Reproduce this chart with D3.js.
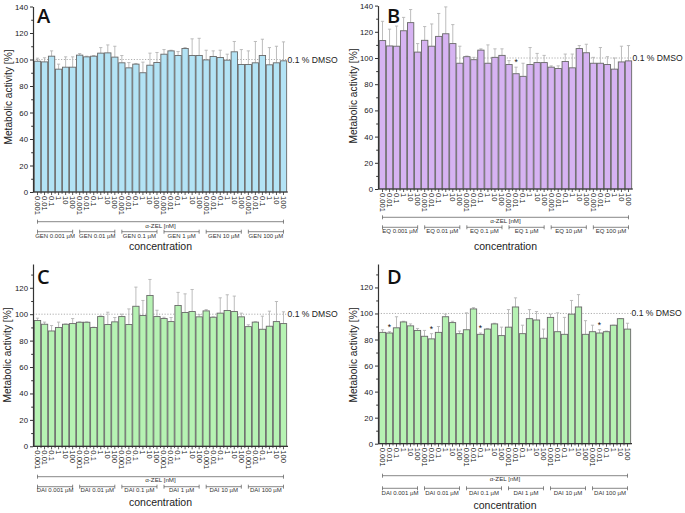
<!DOCTYPE html>
<html>
<head>
<meta charset="utf-8">
<script src="https://cdn.jsdelivr.net/npm/d3@7"></script>
<style>
  html, body { margin: 0; padding: 0; background: #fff; }
  svg { display: block; font-family: "Liberation Sans", Arial, sans-serif; }
</style>
</head>
<body>
<svg id="chart" width="685" height="513"></svg>
<script>
// ---------- DATA ----------
const concentrations = ["0.001", "0.01", "0.1", "1", "10", "100"];
const groupDoses = ["0.001 µM", "0.01 µM", "0.1 µM", "1 µM", "10 µM", "100 µM"];
const compounds = ["GEN", "EQ", "DAI", "DAI"];
const panelLetters = ["A", "B", "C", "D"];
const yTicksAB = [0, 20, 40, 60, 80, 100, 120, 140];
const yTicksCD = [0, 20, 40, 60, 80, 100, 120];
const axisTitleY = "Metabolic activity [%]";
const axisTitleX = "concentration";
const bracketLabel = "α-ZEL [nM]";
const refLabel = "0.1 % DMSO";
const refValue = 100;

const valuesA = [98.7, 98.2, 102.5, 92.7, 94.2, 94.2, 103.3, 102, 102.5, 104.8, 105, 101.8,
                 97.5, 93.7, 96.5, 90, 95.7, 97.7, 104, 106.5, 103, 108.3, 103, 103,
                 99.7, 102.3, 101.5, 99.5, 105.8, 96.2, 96.2, 97.5, 103, 96, 97.5, 99];
const errA    = [101, 101.3, 106.5, 96.5, 102, 102, 104.5, 102.5, 103, 109, 111, 110,
                 103, 97.7, 97, 98, 104.8, 105.3, 107.5, 107, 106, 109, 115.6, 116,
                 107, 106.5, 107, 104, 113.6, 107.5, 106.5, 113.6, 115.3, 109, 110, 113.3];

const valuesB = [113.3, 109.2, 109, 120.8, 127, 104.5, 113.5, 109, 116.5, 118.5, 111, 96,
                 101, 98.7, 106, 96, 100.5, 102, 95, 88, 86, 95, 96.5, 96.5,
                 93, 92, 97.3, 92.5, 107.2, 104, 96, 96, 95, 91.5, 97, 97.8];
const errB    = [128, 122, 124.4, 131, 137, 111, 124, 126, 134, 139, 125.5, 109,
                 101.5, 100.5, 107, 110, 107, 107, 98, 93, 96, 108, 103.5, 102,
                 94, 94, 103, 103, 109.5, 110.5, 100.5, 108, 101, 100, 109, 109.5];
const starsB  = [20];

const valuesC = [95.2, 92.4, 87.3, 89.9, 92.4, 92.9, 93.9, 93.9, 89.9, 98.2, 92.2, 94.2,
                 98.2, 92.2, 106, 99, 114.2, 98.2, 96.7, 94.4, 106.6, 101.3, 102, 98,
                 102.5, 97.7, 100.8, 102.8, 102, 98, 90.6, 94, 88.6, 90.9, 94.4, 92.9];
const errC    = [97, 94, 91.4, 94, 92.6, 96.7, 94.2, 94.2, 90.2, 98.7, 101.5, 97.5,
                 100, 104, 120.5, 110.4, 126.3, 103, 97.7, 97.5, 116.5, 115.4, 118.7, 99.7,
                 103.5, 98, 112.4, 114.7, 113.7, 100.8, 92, 94.3, 98.5, 102.3, 109.6, 101.8];

const valuesD = [85.5, 85, 89, 93.5, 90.5, 87, 82.5, 80.5, 85.5, 97.5, 93, 84.5,
                 87.5, 103.5, 84, 88, 92, 83, 89.5, 105, 84.5, 96, 95, 81,
                 97, 86, 84, 99.5, 105, 84, 86, 85, 86, 91, 96, 88];
const errD    = [87.5, 86, 97.5, 94, 92, 88.5, 87, 84.5, 90, 99.5, 94, 86.5,
                 100.5, 104.5, 85, 88.5, 92.5, 89.5, 103, 112, 91, 103, 101.5, 88,
                 99.5, 100.5, 97, 110, 114.5, 94.5, 91, 87.5, 86.5, 91, 96, 92.5];
const starsD  = [2, 8, 15, 32];

// ---------- LAYOUT / STYLE ----------
const panels = [
  { letter: panelLetters[0], compound: compounds[0], values: valuesA, errors: errA, stars: [],
    fill: "#b3e3f5", left: 34, right: 287, axisX: 33, y0: 192, yTop: 6.5, yMax: 140, yTicks: yTicksAB,
    titleX: 8, titleY: 97, letterX: 37, letterY: 23,
    offFull: 29.7, offZel: 35.5, offGroup: 39.7, offGroupLab: 46, offConc: 58 },
  { letter: panelLetters[1], compound: compounds[1], values: valuesB, errors: errB, stars: starsB,
    fill: "#d6b3f2", left: 379, right: 632, axisX: 378, y0: 189, yTop: 5.6, yMax: 140, yTicks: yTicksAB,
    titleX: 353, titleY: 96, letterX: 387, letterY: 23,
    offFull: 28.3, offZel: 34, offGroup: 38.3, offGroupLab: 44, offConc: 61 },
  { letter: panelLetters[2], compound: compounds[2], values: valuesC, errors: errC, stars: [],
    fill: "#b6f2b3", left: 34, right: 287, axisX: 33, y0: 446.3, yTop: 264, yMax: 138, yTicks: yTicksCD,
    titleX: 7, titleY: 355, letterX: 37, letterY: 284,
    offFull: 30.4, offZel: 36, offGroup: 40.4, offGroupLab: 46, offConc: 60 },
  { letter: panelLetters[3], compound: compounds[3], values: valuesD, errors: errD, stars: starsD,
    fill: "#b6f2b3", left: 379, right: 631, axisX: 378, y0: 443.7, yTop: 264, yMax: 138, yTicks: yTicksCD,
    titleX: 353, titleY: 355, letterX: 387, letterY: 284,
    offFull: 32, offZel: 37, offGroup: 44.6, offGroupLab: 51, offConc: 65 }
];

const svg = d3.select("#chart");
svg.append("rect").attr("width", 685).attr("height", 513).attr("fill", "#fff");

const categories = d3.range(groupDoses.length * concentrations.length);

panels.forEach(p => {
  const g = svg.append("g");
  const x = d3.scaleBand().domain(categories).range([p.left, p.right]).paddingInner(0.1).paddingOuter(0.05);
  const y = d3.scaleLinear().domain([0, p.yMax]).range([p.y0, p.yTop]);

  // reference line
  g.append("line")
    .attr("x1", p.axisX).attr("x2", p.right + 1)
    .attr("y1", y(refValue)).attr("y2", y(refValue))
    .attr("stroke", "#9a9a9a").attr("stroke-width", 0.8).attr("stroke-dasharray", "1.2,1.6");
  g.append("text").attr("x", p.right + 0.5).attr("y", y(refValue) + 3)
    .attr("font-size", 8.6).attr("fill", "#222").text(refLabel);

  // error bars
  const eg = g.append("g").attr("stroke", "#b5b5b5").attr("stroke-width", 0.9);
  categories.forEach(i => {
    const cx = x(i) + x.bandwidth() / 2;
    eg.append("line").attr("x1", cx).attr("x2", cx).attr("y1", y(p.values[i])).attr("y2", y(p.errors[i]));
    eg.append("line").attr("x1", cx - 1.6).attr("x2", cx + 1.6).attr("y1", y(p.errors[i])).attr("y2", y(p.errors[i]));
  });

  // bars
  g.append("g").selectAll("rect").data(categories).join("rect")
    .attr("x", i => x(i)).attr("width", x.bandwidth())
    .attr("y", i => y(p.values[i])).attr("height", i => y(0) - y(p.values[i]))
    .attr("fill", p.fill).attr("stroke", "#686868").attr("stroke-width", 0.9);

  // stars
  p.stars.forEach(n => {
    const i = n - 1;
    g.append("text").attr("x", x(i) + x.bandwidth() / 2).attr("y", y(p.errors[i]) - 2)
      .attr("text-anchor", "middle").attr("font-size", 8.5).attr("fill", "#111").text("*");
  });

  // y axis
  const yMinor = d3.range(10, p.yMax, 20);
  const ya = g.append("g").attr("transform", `translate(${p.axisX},0)`)
    .call(d3.axisLeft(y).tickValues(p.yTicks).tickSize(3).tickSizeOuter(0).tickPadding(2));
  ya.selectAll("text").attr("font-size", 7.8).attr("fill", "#222").attr("font-family", "Liberation Sans, Arial, sans-serif");
  ya.select(".domain").attr("stroke", "#333").attr("stroke-width", 1.2);
  ya.selectAll(".tick line").attr("stroke", "#333");
  const ym = g.append("g").attr("transform", `translate(${p.axisX},0)`)
    .call(d3.axisLeft(y).tickValues(yMinor).tickSize(1.8).tickFormat(""));
  ym.select(".domain").remove();
  ym.selectAll(".tick line").attr("stroke", "#333");

  // x axis
  g.append("line").attr("x1", p.axisX).attr("x2", p.right + 1).attr("y1", p.y0).attr("y2", p.y0)
    .attr("stroke", "#333").attr("stroke-width", 1.2);
  const xt = g.append("g").attr("stroke", "#333").attr("stroke-width", 0.8);
  categories.forEach(i => {
    const cx = x(i) + x.bandwidth() / 2;
    xt.append("line").attr("x1", cx).attr("x2", cx).attr("y1", p.y0).attr("y2", p.y0 + 3);
    const bx = x(i) + x.bandwidth() + x.step() * x.paddingInner() / 2;
    if (i < categories.length - 1)
      xt.append("line").attr("x1", bx).attr("x2", bx).attr("y1", p.y0).attr("y2", p.y0 + 1.8);
  });
  categories.forEach(i => {
    const cx = x(i) + x.bandwidth() / 2;
    g.append("text")
      .attr("transform", `translate(${cx - 2.6},${p.y0 + 4}) rotate(90)`)
      .attr("font-size", 7.6).attr("fill", "#222")
      .text(concentrations[i % concentrations.length]);
  });

  // full bracket
  const first = x(0) + x.bandwidth() / 2;
  const last = x(categories.length - 1) + x.bandwidth() / 2;
  const br = g.append("g").attr("stroke", "#555").attr("stroke-width", 0.7);
  const fy = p.y0 + p.offFull;
  br.append("line").attr("x1", first).attr("x2", last).attr("y1", fy).attr("y2", fy);
  br.append("line").attr("x1", first).attr("x2", first).attr("y1", fy - 2).attr("y2", fy + 2);
  br.append("line").attr("x1", last).attr("x2", last).attr("y1", fy - 2).attr("y2", fy + 2);
  g.append("text").attr("x", (p.left + p.right) / 2).attr("y", p.y0 + p.offZel)
    .attr("text-anchor", "middle").attr("font-size", 6.2).attr("fill", "#333").text(bracketLabel);

  // group brackets
  const gy = p.y0 + p.offGroup;
  groupDoses.forEach((d, k) => {
    const a = x(k * 6) + x.bandwidth() / 2;
    const b = x(k * 6 + 5) + x.bandwidth() / 2;
    br.append("line").attr("x1", a).attr("x2", b).attr("y1", gy).attr("y2", gy);
    br.append("line").attr("x1", a).attr("x2", a).attr("y1", gy - 2).attr("y2", gy + 2);
    br.append("line").attr("x1", b).attr("x2", b).attr("y1", gy - 2).attr("y2", gy + 2);
    g.append("text").attr("x", (a + b) / 2).attr("y", p.y0 + p.offGroupLab)
      .attr("text-anchor", "middle").attr("font-size", 6).attr("fill", "#333")
      .text(p.compound + " " + d);
  });

  // axis titles
  g.append("text").attr("x", (p.left + p.right) / 2).attr("y", p.y0 + p.offConc)
    .attr("text-anchor", "middle").attr("font-size", 10.5).attr("fill", "#222").text(axisTitleX);
  g.append("text").attr("transform", `translate(${p.titleX + 3.5},${p.titleY}) rotate(-90)`)
    .attr("text-anchor", "middle").attr("font-size", 10.2).attr("fill", "#222").text(axisTitleY);

  // panel letter
  g.append("text").attr("x", p.letterX).attr("y", p.letterY)
    .attr("font-size", 20).attr("font-family", "'Open Sans', sans-serif").attr("font-weight", 600)
    .attr("fill", "#111").text(p.letter);
});
</script>
</body>
</html>
